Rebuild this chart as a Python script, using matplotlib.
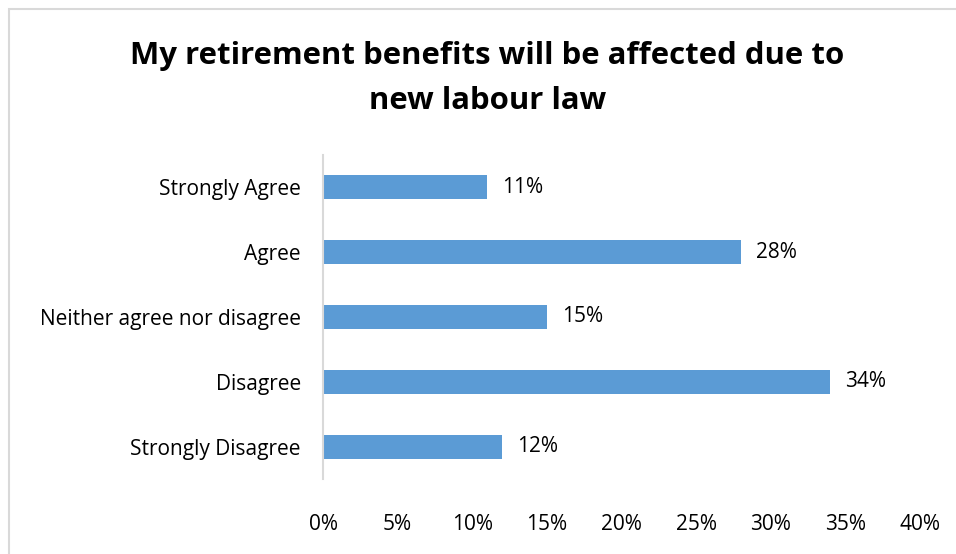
import matplotlib.pyplot as plt
from matplotlib.patches import Rectangle

plt.rcParams['font.family'] = ['Open Sans', 'DejaVu Sans']

# Data
categories = ['Strongly Agree', 'Agree', 'Neither agree nor disagree',
              'Disagree', 'Strongly Disagree']
values = [11, 28, 15, 34, 12]
ticks = [0, 5, 10, 15, 20, 25, 30, 35, 40]

bar_color = '#5B9BD5'
text_color = '#000000'
grey = '#D9D9D9'

fig = plt.figure(figsize=(9.56, 5.54), dpi=100)
ax = fig.add_axes([0.3379, 0.1345, 0.6244, 0.5866])

pos = list(range(len(categories)))[::-1]
ax.barh(pos, values, height=0.36, color=bar_color)

for p, v in zip(pos, values):
    ax.text(v + 1.0, p, f'{v}%', va='center', ha='left',
            fontsize=15, color=text_color)

ax.set_xlim(0, 40)
ax.set_ylim(-0.5, len(categories) - 0.5)
ax.set_yticks(pos)
ax.set_yticklabels(categories, fontsize=15, color=text_color)
ax.set_xticks(ticks)
ax.set_xticklabels([f'{t}%' for t in ticks], fontsize=15, color=text_color)
ax.tick_params(axis='both', length=0)
ax.tick_params(axis='y', pad=16)
ax.tick_params(axis='x', pad=25)

for s in ['top', 'right', 'bottom']:
    ax.spines[s].set_visible(False)
ax.spines['left'].set_color(grey)
ax.spines['left'].set_linewidth(1.5)

fig.text(0.510, 0.858, 'My retirement benefits will be affected due to\nnew labour law',
         ha='center', va='center', fontsize=22.4, fontweight='bold',
         color=text_color, linespacing=1.68)

# chart border
fig.patches.append(Rectangle((9 / 956, -0.05), 1.1, 1.0 - 9 / 554 + 0.05,
                             transform=fig.transFigure, fill=False,
                             edgecolor=grey, linewidth=1.5))

fig.savefig('out.png', dpi=100, facecolor='white')
